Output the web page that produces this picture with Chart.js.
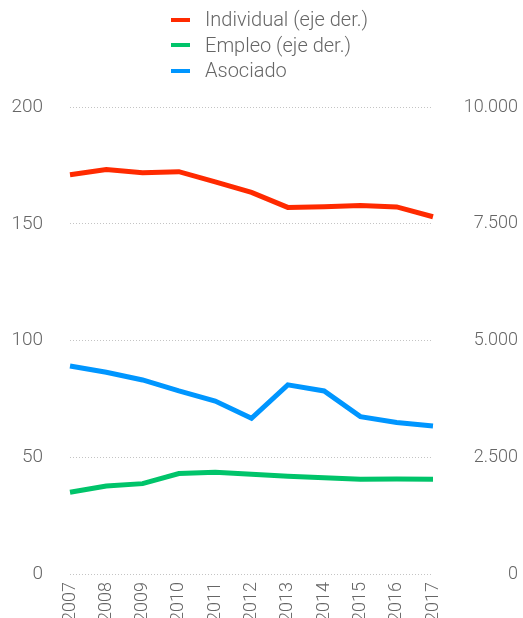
<!DOCTYPE html>
<html>
<head>
<meta charset="utf-8">
<script src="https://cdn.jsdelivr.net/npm/chart.js@4/dist/chart.umd.min.js"></script>
<style>
  html, body { margin: 0; padding: 0; background: #fff; overflow: hidden; }
  body { width: 523px; height: 618px; position: relative; }
  #wrap { position: absolute; left: 0; top: 0; width: 523px; height: 626px; }
  #legend { position: absolute; left: 171px; top: 7px; font-family: Roboto, "Open Sans", sans-serif; font-weight: 300; font-size: 20px; color: #666; }
  .item { height: 25.5px; line-height: 25.5px; display: flex; align-items: center; white-space: nowrap; }
  .sw { width: 19px; height: 4px; margin-right: 15px; }
</style>
</head>
<body>
<div id="wrap"><canvas id="c"></canvas></div>
<div id="legend"></div>
<script>
const years = ['2007','2008','2009','2010','2011','2012','2013','2014','2015','2016','2017'];
// Individual and Empleo read on the right axis, Asociado on the left axis
const individual = [8550, 8660, 8590, 8615, 8395, 8170, 7850, 7865, 7890, 7860, 7650];
const empleo     = [1750, 1885, 1935, 2150, 2180, 2135, 2095, 2060, 2030, 2035, 2030];
const asociado   = [89.1, 86.4, 83.1, 78.4, 74.1, 66.7, 81.0, 78.4, 67.4, 64.9, 63.4];
const seriesNames = ['Individual (eje der.)', 'Empleo (eje der.)', 'Asociado'];
const seriesColors = ['#ff2a00', '#00c46a', '#0096ff'];
const leftTicks = [0, 50, 100, 150, 200];
const rightTicks = [0, 2500, 5000, 7500, 10000];

const fontFamily = 'Roboto, "Open Sans", sans-serif';
const textColor = '#666666';

const legend = document.getElementById('legend');
seriesNames.forEach((name, i) => {
  const row = document.createElement('div');
  row.className = 'item';
  const sw = document.createElement('span');
  sw.className = 'sw';
  sw.style.background = seriesColors[i];
  const tx = document.createElement('span');
  tx.textContent = name;
  row.appendChild(sw);
  row.appendChild(tx);
  legend.appendChild(row);
});

const fmt = v => String(v).replace(/\B(?=(\d{3})+(?!\d))/g, '.');

new Chart(document.getElementById('c'), {
  type: 'line',
  data: {
    labels: years,
    datasets: [
      { label: seriesNames[0], data: individual, yAxisID: 'yR', borderColor: seriesColors[0] },
      { label: seriesNames[1], data: empleo, yAxisID: 'yR', borderColor: seriesColors[1] },
      { label: seriesNames[2], data: asociado, yAxisID: 'yL', borderColor: seriesColors[2] }
    ]
  },
  options: {
    responsive: true,
    maintainAspectRatio: false,
    animation: false,
    layout: { padding: { top: 107, right: 5, left: 0, bottom: 0 } },
    elements: {
      line: { borderWidth: 5, tension: 0, borderCapStyle: 'butt', borderJoinStyle: 'miter', fill: false },
      point: { radius: 0, hoverRadius: 0 }
    },
    plugins: { legend: { display: false }, tooltip: { enabled: false } },
    scales: {
      x: {
        offset: false,
        grid: { display: false, drawTicks: false },
        border: { display: false },
        ticks: {
          minRotation: 90, maxRotation: 90, padding: 8, autoSkip: false,
          color: textColor, font: { family: fontFamily, size: 18, weight: 300 }
        },
        afterFit: s => { s.height = 52; }
      },
      yL: {
        position: 'left',
        min: 0, max: 200,
        afterBuildTicks: s => { s.ticks = leftTicks.map(v => ({ value: v })); },
        grid: { color: '#c4c4c4', lineWidth: 1, drawTicks: false },
        border: { display: false, dash: [1, 2] },
        ticks: { padding: 27, color: textColor, font: { family: fontFamily, size: 19, weight: 300 } },
        afterFit: s => { s.width = 70; }
      },
      yR: {
        position: 'right',
        min: 0, max: 10000,
        afterBuildTicks: s => { s.ticks = rightTicks.map(v => ({ value: v })); },
        grid: { display: false, drawTicks: false },
        border: { display: false },
        ticks: {
          crossAlign: 'far', padding: 20, color: textColor,
          font: { family: fontFamily, size: 18, weight: 300 },
          callback: v => fmt(v)
        },
        afterFit: s => { s.width = 85; }
      }
    }
  }
});
</script>
</body>
</html>
